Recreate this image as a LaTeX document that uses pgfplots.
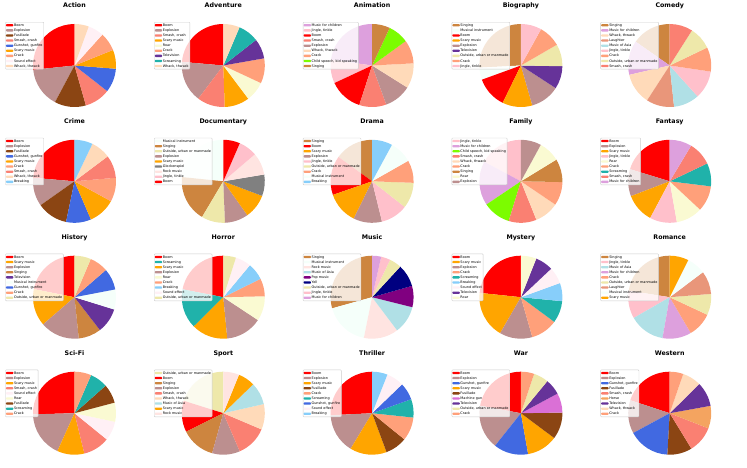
\documentclass[border=0pt]{standalone}
\usepackage{fontspec}
\setmainfont{DejaVu Sans}
\usepackage{pgfplots}
\pgfplotsset{compat=1.18}

\definecolor{cBoom}{HTML}{FF0000}
\definecolor{cExplosion}{HTML}{BC8F8F}
\definecolor{cFusillade}{HTML}{8B4513}
\definecolor{cSmash}{HTML}{FA8072}
\definecolor{cGunshot}{HTML}{4169E1}
\definecolor{cScary}{HTML}{FFA500}
\definecolor{cCrack}{HTML}{FFA07A}
\definecolor{cSoundFx}{HTML}{FFF0F5}
\definecolor{cWhack}{HTML}{FFDAB9}
\definecolor{cRoar}{HTML}{FAFAD2}
\definecolor{cTV}{HTML}{663399}
\definecolor{cScream}{HTML}{20B2AA}
\definecolor{cChildren}{HTML}{DDA0DD}
\definecolor{cJingle}{HTML}{FFC0CB}
\definecolor{cChild}{HTML}{7CFC00}
\definecolor{cSinging}{HTML}{CD853F}
\definecolor{cInstrument}{HTML}{F5FFFA}
\definecolor{cLaughter}{HTML}{E9967A}
\definecolor{cAsia}{HTML}{B0E0E6}
\definecolor{cOutside}{HTML}{EEE8AA}
\definecolor{cGlock}{HTML}{808080}
\definecolor{cRock}{HTML}{FFE4E1}
\definecolor{cBreaking}{HTML}{87CEFA}
\definecolor{cPop}{HTML}{800080}
\definecolor{cYell}{HTML}{000080}
\definecolor{cMGun}{HTML}{DA70D6}
\definecolor{cHorse}{HTML}{F4A460}

\newcommand\pietotal{0}
\newcommand\piestart{90}
\newcommand\piedelta{0}
\newcommand\pieR{41.5}

\newcommand\sumslice[3]{\pgfmathsetmacro\pietotal{\pietotal+#1}\global\let\pietotal\pietotal}
\newcommand\drawslice[3]{%
  \pgfmathsetmacro\piedelta{#1/\pietotal*360}%
  \edef\pietmp{\noexpand\addplot[fill=#2, draw=none, data cs=polar] coordinates {(0,0) (\piestart,1)} arc[start angle=\piestart, delta angle=\piedelta, radius=\pieR pt] -- cycle;}%
  \pietmp
  \addlegendentry{#3}%
  \pgfmathsetmacro\piestart{\piestart+\piedelta}\global\let\piestart\piestart
}

\pgfplotsset{pie axis/.style={
  scale only axis, width=83pt, height=83pt,
  xmin=-1, xmax=1, ymin=-1, ymax=1, enlargelimits=false,
  hide axis, clip=false, anchor=center,
  title style={at={(0.5,1)}, anchor=base, yshift=10.7pt, inner sep=0pt,
    font=\fontsize{6.3}{7}\selectfont\bfseries},
  legend cell align=left,
  legend style={at={(-0.334,1.024)}, anchor=north west,
    font=\fontsize{3.4}{4}\selectfont,
    draw=black!20, fill=white, fill opacity=0.8, draw opacity=1, text opacity=1,
    rounded corners=0.8pt, inner sep=0.5pt, row sep=0pt,
    nodes={inner sep=0.7pt, text height=2.9pt, text depth=0.8pt}},
  legend image code/.code={\fill[##1, fill opacity=1] (0pt,-1.15pt) rectangle (7.4pt,1.15pt);},
}}

\newcommand\pie[4]{%
  \gdef\pietotal{0}\gdef\piestart{90}%
  \let\slice\sumslice #4%
  \let\slice\drawslice
  \begin{axis}[pie axis, at={(#1pt,-#2pt)}, title={#3}]
  #4
  \end{axis}%
}

\begin{document}
\begin{tikzpicture}
\useasboundingbox (0,0) rectangle (747pt,-468pt);
% Row 1
\pie{74.5}{65.5}{Action}{\slice{96}{cBoom}{Boom}\slice{56}{cExplosion}{Explosion}\slice{44}{cFusillade}{Fusillade}\slice{36}{cSmash}{Smash, crash}\slice{33.5}{cGunshot}{Gunshot, gunfire}\slice{26.5}{cScary}{Scary music}\slice{26}{cCrack}{Crack}\slice{22}{cSoundFx}{Sound effect}\slice{20}{cWhack}{Whack, thwack}}
\pie{223.3}{65.5}{Adventure}{\slice{85}{cBoom}{Boom}\slice{58}{cExplosion}{Explosion}\slice{39}{cSmash}{Smash, crash}\slice{35}{cScary}{Scary music}\slice{28}{cRoar}{Roar}\slice{35}{cCrack}{Crack}\slice{28}{cTV}{Television}\slice{29}{cScream}{Screaming}\slice{23}{cWhack}{Whack, thwack}}
\pie{372.1}{65.5}{Animation}{\slice{82}{cChildren}{Music for children}\slice{33}{cJingle}{Jingle, tinkle}\slice{47}{cBoom}{Boom}\slice{38}{cSmash}{Smash, crash}\slice{38}{cExplosion}{Explosion}\slice{35}{cWhack}{Whack, thwack}\slice{33}{cCrack}{Crack}\slice{29}{cChild}{Child speech, kid speaking}\slice{25}{cSinging}{Singing}}
\pie{520.9}{65.5}{Biography}{\slice{93}{cSinging}{Singing}\slice{17}{cInstrument}{Musical instrument}\slice{44}{cBoom}{Boom}\slice{42}{cScary}{Scary music}\slice{41}{cExplosion}{Explosion}\slice{32}{cTV}{Television}\slice{31}{cOutside}{Outside, urban or manmade}\slice{31}{cCrack}{Crack}\slice{29}{cJingle}{Jingle, tinkle}}
\pie{669.7}{65.5}{Comedy}{\slice{55}{cSinging}{Singing}\slice{48}{cChildren}{Music for children}\slice{44}{cWhack}{Whack, thwack}\slice{39}{cLaughter}{Laughter}\slice{36}{cAsia}{Music of Asia}\slice{39.5}{cJingle}{Jingle, tinkle}\slice{34}{cCrack}{Crack}\slice{32}{cOutside}{Outside, urban or manmade}\slice{32.4}{cSmash}{Smash, crash}}
% Row 2
\pie{74.5}{181.3}{Crime}{\slice{85}{cBoom}{Boom}\slice{40}{cExplosion}{Explosion}\slice{43}{cFusillade}{Fusillade}\slice{35}{cGunshot}{Gunshot, gunfire}\slice{38}{cScary}{Scary music}\slice{33.5}{cCrack}{Crack}\slice{32}{cSmash}{Smash, crash}\slice{27.5}{cWhack}{Whack, thwack}\slice{25.5}{cBreaking}{Breaking}}
\pie{223.3}{181.3}{Documentary}{\slice{84}{cInstrument}{Musical instrument}\slice{65}{cSinging}{Singing}\slice{33}{cOutside}{Outside, urban or manmade}\slice{33}{cExplosion}{Explosion}\slice{34}{cScary}{Scary music}\slice{30}{cGlock}{Glockenspiel}\slice{31}{cRock}{Rock music}\slice{26}{cJingle}{Jingle, tinkle}\slice{23.4}{cBoom}{Boom}}
\pie{372.1}{181.3}{Drama}{\slice{54}{cSinging}{Singing}\slice{55}{cBoom}{Boom}\slice{44.6}{cScary}{Scary music}\slice{40}{cExplosion}{Explosion}\slice{38}{cJingle}{Jingle, tinkle}\slice{36}{cOutside}{Outside, urban or manmade}\slice{31.7}{cCrack}{Crack}\slice{31.8}{cInstrument}{Musical instrument}\slice{28.5}{cBreaking}{Breaking}}
\pie{520.9}{181.3}{Family}{\slice{62}{cJingle}{Jingle, tinkle}\slice{62}{cChildren}{Music for children}\slice{39}{cChild}{Child speech, kid speaking}\slice{39}{cSmash}{Smash, crash}\slice{34}{cWhack}{Whack, thwack}\slice{33}{cCrack}{Crack}\slice{32.5}{cSinging}{Singing}\slice{30}{cRoar}{Roar}\slice{28.6}{cExplosion}{Explosion}}
\pie{669.7}{181.3}{Fantasy}{\slice{73}{cBoom}{Boom}\slice{38}{cExplosion}{Explosion}\slice{41}{cScary}{Scary music}\slice{38}{cJingle}{Jingle, tinkle}\slice{37}{cRoar}{Roar}\slice{36}{cCrack}{Crack}\slice{32.5}{cScream}{Screaming}\slice{33.5}{cSmash}{Smash, crash}\slice{31}{cChildren}{Music for children}}
% Row 3
\pie{74.5}{297.2}{History}{\slice{78.6}{cBoom}{Boom}\slice{52}{cScary}{Scary music}\slice{55}{cExplosion}{Explosion}\slice{31.7}{cSinging}{Singing}\slice{35}{cTV}{Television}\slice{28}{cInstrument}{Musical instrument}\slice{30}{cGunshot}{Gunshot, gunfire}\slice{26}{cCrack}{Crack}\slice{23}{cOutside}{Outside, urban or manmade}}
\pie{223.3}{297.2}{Horror}{\slice{79}{cBoom}{Boom}\slice{55.7}{cScream}{Screaming}\slice{50.8}{cScary}{Scary music}\slice{51}{cExplosion}{Explosion}\slice{34.7}{cRoar}{Roar}\slice{25}{cCrack}{Crack}\slice{24}{cBreaking}{Breaking}\slice{22}{cSoundFx}{Sound effect}\slice{17.7}{cOutside}{Outside, urban or manmade}}
\pie{372.1}{297.2}{Music}{\slice{105.6}{cSinging}{Singing}\slice{63}{cInstrument}{Musical instrument}\slice{48.5}{cRock}{Rock music}\slice{39}{cAsia}{Music of Asia}\slice{29.8}{cPop}{Pop music}\slice{31.5}{cYell}{Yell}\slice{17}{cOutside}{Outside, urban or manmade}\slice{13}{cJingle}{Jingle, tinkle}\slice{12.7}{cChildren}{Music for children}}
\pie{520.9}{297.2}{Mystery}{\slice{84}{cBoom}{Boom}\slice{66}{cScary}{Scary music}\slice{46}{cExplosion}{Explosion}\slice{37.5}{cCrack}{Crack}\slice{31}{cScream}{Screaming}\slice{25.5}{cBreaking}{Breaking}\slice{23.3}{cSoundFx}{Sound effect}\slice{25}{cTV}{Television}\slice{21.7}{cRoar}{Roar}}
\pie{669.7}{297.2}{Romance}{\slice{81}{cSinging}{Singing}\slice{39}{cJingle}{Jingle, tinkle}\slice{50}{cAsia}{Music of Asia}\slice{40.5}{cChildren}{Music for children}\slice{34.5}{cCrack}{Crack}\slice{29.6}{cOutside}{Outside, urban or manmade}\slice{32.4}{cLaughter}{Laughter}\slice{26.4}{cInstrument}{Musical instrument}\slice{26.6}{cScary}{Scary music}}
% Row 4
\pie{74.5}{413.2}{Sci-Fi}{\slice{91.4}{cBoom}{Boom}\slice{64}{cExplosion}{Explosion}\slice{38}{cScary}{Scary music}\slice{37}{cSmash}{Smash, crash}\slice{27}{cSoundFx}{Sound effect}\slice{26.8}{cRoar}{Roar}\slice{26.6}{cFusillade}{Fusillade}\slice{25}{cScream}{Screaming}\slice{23.5}{cCrack}{Crack}}
\pie{223.3}{413.2}{Sport}{\slice{72.6}{cOutside}{Outside, urban or manmade}\slice{44}{cBoom}{Boom}\slice{47.8}{cSinging}{Singing}\slice{39}{cExplosion}{Explosion}\slice{43.7}{cSmash}{Smash, crash}\slice{35.7}{cWhack}{Whack, thwack}\slice{31.3}{cAsia}{Music of Asia}\slice{23.8}{cScary}{Scary music}\slice{22.2}{cRock}{Rock music}}
\pie{372.1}{413.2}{Thriller}{\slice{92.8}{cBoom}{Boom}\slice{56}{cExplosion}{Explosion}\slice{51.5}{cScary}{Scary music}\slice{30.6}{cFusillade}{Fusillade}\slice{33}{cCrack}{Crack}\slice{25.7}{cScream}{Screaming}\slice{24.3}{cGunshot}{Gunshot, gunfire}\slice{24.4}{cSoundFx}{Sound effect}\slice{21.6}{cBreaking}{Breaking}}
\pie{520.9}{413.2}{War}{\slice{79.6}{cBoom}{Boom}\slice{62}{cExplosion}{Explosion}\slice{48.5}{cGunshot}{Gunshot, gunfire}\slice{43.3}{cScary}{Scary music}\slice{37.6}{cFusillade}{Fusillade}\slice{27.3}{cMGun}{Machine gun}\slice{22.3}{cTV}{Television}\slice{20.9}{cOutside}{Outside, urban or manmade}\slice{18.6}{cCrack}{Crack}}
\pie{669.7}{413.2}{Western}{\slice{71.8}{cBoom}{Boom}\slice{46.7}{cExplosion}{Explosion}\slice{58.3}{cGunshot}{Gunshot, gunfire}\slice{34.7}{cFusillade}{Fusillade}\slice{37.1}{cSmash}{Smash, crash}\slice{31.7}{cHorse}{Horse}\slice{34.4}{cTV}{Television}\slice{26.3}{cWhack}{Whack, thwack}\slice{19}{cCrack}{Crack}}
\end{tikzpicture}
\end{document}
